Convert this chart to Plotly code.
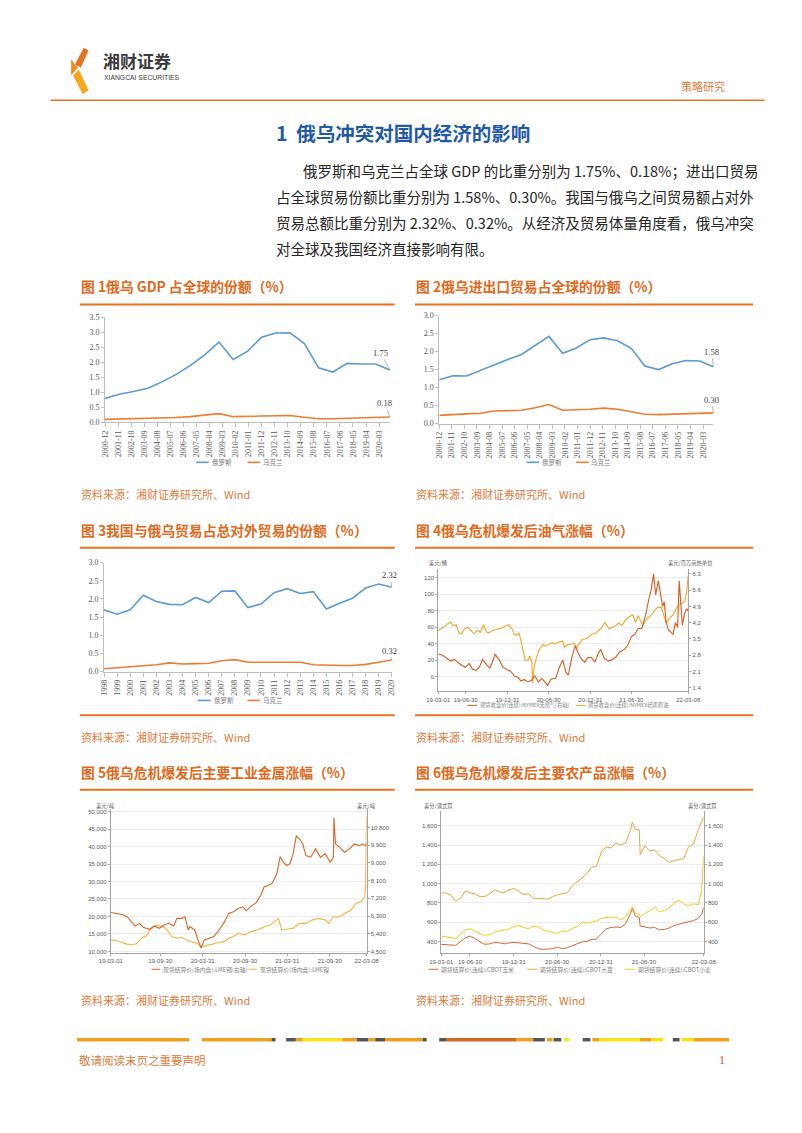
import plotly.graph_objects as go

W, H = 802, 1133
CJK = "Noto Sans CJK SC"
SERIF = "Liberation Serif"
SANS = "Liberation Sans"
LINE_OR = "#E8731E"
TITLE_OR = "#E2691A"
SRC_OR = "#E07B3C"
BLUE = "#5B9BD5"
XL_OR = "#ED7D31"
TXT = "#595959"

# ---------------- data ----------------
GDP_DATES = ["2000-12-01", "2001-12-01", "2002-12-01", "2003-12-01", "2004-12-01", "2005-12-01",
             "2006-12-01", "2007-12-01", "2008-12-01", "2009-12-01", "2010-12-01", "2011-12-01",
             "2012-12-01", "2013-12-01", "2014-12-01", "2015-12-01", "2016-12-01", "2017-12-01",
             "2018-12-01", "2019-12-01", "2020-12-01"]
MONTH_TICKS = ["2000-12", "2001-11", "2002-10", "2003-09", "2004-08", "2005-07", "2006-06", "2007-05",
               "2008-04", "2009-03", "2010-02", "2011-01", "2011-12", "2012-11", "2013-10", "2014-09",
               "2015-08", "2016-07", "2017-06", "2018-05", "2019-04", "2020-03"]
GDP_RU = [0.80, 0.94, 1.03, 1.14, 1.35, 1.60, 1.90, 2.25, 2.68, 2.10, 2.37, 2.84, 2.98, 2.99, 2.63,
          1.82, 1.68, 1.97, 1.95, 1.95, 1.75]
GDP_UA = [0.10, 0.11, 0.12, 0.13, 0.14, 0.16, 0.19, 0.23, 0.29, 0.19, 0.19, 0.21, 0.22, 0.23, 0.17,
          0.12, 0.12, 0.13, 0.15, 0.17, 0.18]
TRADE_RU = [1.22, 1.33, 1.32, 1.48, 1.62, 1.78, 1.92, 2.17, 2.42, 1.95, 2.10, 2.33, 2.38, 2.30, 2.09,
            1.60, 1.50, 1.66, 1.75, 1.74, 1.58]
TRADE_UA = [0.23, 0.26, 0.27, 0.29, 0.35, 0.36, 0.37, 0.44, 0.53, 0.37, 0.38, 0.40, 0.43, 0.40, 0.33,
            0.26, 0.25, 0.26, 0.28, 0.30, 0.30]
CN_YEARS = list(range(1998, 2021))
CN_RU = [1.70, 1.58, 1.70, 2.10, 1.93, 1.85, 1.84, 2.04, 1.90, 2.21, 2.22, 1.76, 1.86, 2.17, 2.28,
         2.15, 2.20, 1.72, 1.88, 2.02, 2.30, 2.41, 2.32]
CN_UA = [0.08, 0.11, 0.12, 0.16, 0.19, 0.24, 0.21, 0.22, 0.23, 0.30, 0.33, 0.26, 0.26, 0.28, 0.26,
         0.26, 0.19, 0.17, 0.17, 0.17, 0.20, 0.26, 0.32]

# chart 4: NYMEX crude (left) and natural gas (right)
CL_DATES = ["2019-03-01", "2019-03-15", "2019-03-29", "2019-04-10", "2019-04-23", "2019-05-06", "2019-05-20",
            "2019-05-31", "2019-06-12", "2019-06-24", "2019-07-10", "2019-07-22", "2019-08-07", "2019-08-19",
            "2019-09-03", "2019-09-16", "2019-09-30", "2019-10-10", "2019-10-25", "2019-11-08", "2019-11-22",
            "2019-12-06", "2019-12-20", "2020-01-07", "2020-01-20", "2020-01-31", "2020-02-10", "2020-02-20",
            "2020-02-28", "2020-03-09", "2020-03-18", "2020-03-31", "2020-04-08", "2020-04-17", "2020-04-20",
            "2020-04-27", "2020-05-08", "2020-05-20", "2020-06-05", "2020-06-15", "2020-06-30", "2020-07-15",
            "2020-07-31", "2020-08-14", "2020-08-31", "2020-09-08", "2020-09-21", "2020-10-05", "2020-10-20",
            "2020-10-30", "2020-11-13", "2020-11-25", "2020-12-10", "2020-12-24", "2021-01-08", "2021-01-22",
            "2021-02-05", "2021-02-19", "2021-03-05", "2021-03-23", "2021-04-07", "2021-04-22", "2021-05-05",
            "2021-05-19", "2021-06-02", "2021-06-16", "2021-07-06", "2021-07-19", "2021-07-30", "2021-08-11",
            "2021-08-20", "2021-09-03", "2021-09-17", "2021-10-01", "2021-10-15", "2021-10-26", "2021-11-09",
            "2021-11-26", "2021-12-01", "2021-12-15", "2021-12-31", "2022-01-13", "2022-01-26", "2022-02-09",
            "2022-02-22", "2022-03-01", "2022-03-04", "2022-03-08"]
CL_VALS = [56, 58, 61, 64, 66, 62, 63, 53, 52, 58, 60, 56, 52, 56, 54, 63, 54, 53, 56, 57, 58, 59, 61,
           63, 58, 51, 50, 53, 45, 31, 20, 20, 25, 18, -8, 12, 24, 33, 39, 37, 39, 41, 40, 42, 43, 36, 39,
           39, 41, 36, 40, 45, 46, 48,
           52, 52, 56, 59, 66, 58, 60, 62, 65, 62, 68, 72, 75, 66, 74, 68, 62, 69, 72, 76, 82, 84, 84, 68,
           65, 71, 75, 82, 87, 89, 92, 103, 116, 123]
NG_DATES = ["2019-03-01", "2019-03-20", "2019-04-10", "2019-04-25", "2019-05-10", "2019-05-30", "2019-06-15",
            "2019-06-30", "2019-07-15", "2019-07-30", "2019-08-15", "2019-08-30", "2019-09-12", "2019-09-30",
            "2019-10-15", "2019-10-31", "2019-11-06", "2019-11-25", "2019-12-10", "2019-12-31", "2020-01-15",
            "2020-01-31", "2020-02-15", "2020-02-28", "2020-03-15", "2020-03-31", "2020-04-15", "2020-04-30",
            "2020-05-15", "2020-05-31", "2020-06-15", "2020-06-26", "2020-07-10", "2020-07-31", "2020-08-15",
            "2020-08-31", "2020-09-15", "2020-09-25", "2020-10-10", "2020-10-25", "2020-11-05", "2020-11-20",
            "2020-12-05", "2020-12-20", "2021-01-05", "2021-01-20", "2021-02-05", "2021-02-15", "2021-03-01",
            "2021-03-20", "2021-04-05", "2021-04-25", "2021-05-10", "2021-05-31", "2021-06-15", "2021-06-30",
            "2021-07-15", "2021-07-30", "2021-08-15", "2021-08-31", "2021-09-15", "2021-09-25", "2021-10-06",
            "2021-10-15", "2021-10-27", "2021-11-05", "2021-11-15", "2021-11-22", "2021-12-01", "2021-12-10",
            "2021-12-20", "2021-12-31", "2022-01-10", "2022-01-20", "2022-01-27", "2022-02-03", "2022-02-10",
            "2022-02-20", "2022-03-01", "2022-03-08"]
NG_VALS = [2.85, 2.80, 2.65, 2.55, 2.62, 2.45, 2.35, 2.28, 2.45, 2.20, 2.15, 2.30, 2.62, 2.40, 2.25, 2.65,
           2.85, 2.60, 2.30, 2.18, 2.10, 1.90, 1.85, 1.70, 1.75, 1.65, 1.72, 1.92, 1.65, 1.80, 1.65, 1.50,
           1.78, 1.80, 2.25, 2.60, 2.05, 1.95, 2.70, 3.20, 2.95, 2.65, 2.50, 2.70, 2.70, 2.50, 2.90, 3.05,
           2.70, 2.55, 2.60, 2.75, 2.95, 3.05, 3.25, 3.60, 3.70, 3.95, 3.95, 4.50, 5.20, 5.60, 6.30, 5.40,
           6.00, 5.50, 4.90, 5.10, 4.20, 3.90, 3.80, 3.70, 4.20, 4.00, 6.00, 5.00, 4.10, 4.60, 4.80, 4.70]
DAY_TICKS_A = ["2019-03-01", "2019-06-30", "2019-12-31", "2020-06-30", "2020-12-31", "2021-06-30", "2022-03-08"]
DAY_TICKS_B = ["2019-03-01", "2019-09-30", "2020-03-31", "2020-09-30", "2021-03-31", "2021-09-30", "2022-03-08"]

# chart 5: LME copper (right) and nickel (left)
CU_DATES = ["2019-03-01", "2019-03-22", "2019-04-19", "2019-05-10", "2019-05-30", "2019-06-13", "2019-07-04",
            "2019-07-18", "2019-08-15", "2019-09-05", "2019-09-26", "2019-10-16", "2019-11-06", "2019-11-27",
            "2019-12-11", "2020-01-01", "2020-01-15", "2020-01-29", "2020-02-05", "2020-02-26", "2020-03-11",
            "2020-03-24", "2020-04-07", "2020-04-28", "2020-05-19", "2020-06-09", "2020-06-30", "2020-07-21",
            "2020-08-11", "2020-08-31", "2020-09-21", "2020-10-05", "2020-10-26", "2020-11-16", "2020-12-07",
            "2020-12-21", "2021-01-10", "2021-01-24", "2021-02-14", "2021-02-28", "2021-03-14", "2021-03-28",
            "2021-04-11", "2021-04-25", "2021-05-09", "2021-05-23", "2021-06-06", "2021-06-19", "2021-07-10",
            "2021-07-31", "2021-08-21", "2021-09-11", "2021-10-02", "2021-10-16", "2021-10-18", "2021-10-25",
            "2021-11-12", "2021-12-03", "2021-12-24", "2022-01-14", "2022-02-04", "2022-02-18", "2022-03-04",
            "2022-03-08"]
CU_VALS = [6485, 6434, 6384, 6266, 6014, 5795, 5930, 5728, 5627, 5795, 5677, 5846, 5930, 5795, 6182, 6182,
           6250, 5593, 5761, 5593, 5089, 4668, 5089, 5173, 5257, 5593, 5930, 6434, 6518, 6687, 6771, 6569,
           6804, 6973, 7359, 7780, 7864, 7948, 8453, 9327, 9041, 8873, 8957, 9462, 10387, 10219, 9966, 9378,
           9294, 9714, 9294, 9462, 9041, 9294, 11312, 9966, 9798, 9546, 9714, 9966, 9882, 9966, 9882, 10000]
NI_DATES = ["2019-03-01", "2019-03-22", "2019-04-19", "2019-05-10", "2019-05-30", "2019-06-20", "2019-07-11",
            "2019-08-01", "2019-08-22", "2019-09-12", "2019-10-03", "2019-10-16", "2019-10-30", "2019-11-20",
            "2019-12-11", "2020-01-01", "2020-01-22", "2020-02-05", "2020-02-26", "2020-03-17", "2020-03-24",
            "2020-03-31", "2020-04-21", "2020-05-12", "2020-06-09", "2020-06-30", "2020-07-21", "2020-08-11",
            "2020-09-01", "2020-09-28", "2020-10-26", "2020-11-23", "2020-12-21", "2021-01-17", "2021-02-21",
            "2021-03-07", "2021-03-28", "2021-04-25", "2021-05-23", "2021-06-19", "2021-07-17", "2021-08-14",
            "2021-09-11", "2021-09-25", "2021-10-16", "2021-11-12", "2021-12-03", "2021-12-31", "2022-01-21",
            "2022-02-11", "2022-02-28", "2022-03-04", "2022-03-08"]
NI_VALS = [13310, 13120, 12553, 12100, 11900, 12175, 13782, 14500, 16500, 17565, 17200, 16903, 16146, 14255,
           13782, 14000, 13310, 12837, 12553, 11900, 11300, 11418, 11891, 12175, 12553, 12800, 13782, 14300,
           15201, 14728, 15674, 16146, 17092, 17565, 19456, 16146, 16336, 16619, 18038, 18038, 18983, 19456,
           18983, 18038, 19929, 19929, 20874, 21820, 23711, 24184, 25602, 30000, 48500]

# chart 6: CBOT corn, soybean, wheat
AG_DATES = ["2019-03-01", "2019-03-21", "2019-04-11", "2019-05-01", "2019-05-22", "2019-06-11", "2019-07-01",
            "2019-07-22", "2019-08-11", "2019-08-31", "2019-09-21", "2019-10-11", "2019-11-01", "2019-11-21",
            "2019-12-11", "2020-01-01", "2020-01-21", "2020-02-10", "2020-03-02", "2020-03-22", "2020-04-12",
            "2020-05-02", "2020-05-22", "2020-06-12", "2020-07-02", "2020-07-23", "2020-08-12", "2020-09-01",
            "2020-09-22", "2020-10-12", "2020-11-01", "2020-11-22", "2020-12-12", "2021-01-02", "2021-01-22",
            "2021-02-11", "2021-03-04", "2021-03-24", "2021-04-13", "2021-05-04", "2021-05-12", "2021-05-24",
            "2021-06-10", "2021-06-14", "2021-07-04", "2021-07-24", "2021-08-14", "2021-09-03", "2021-09-24",
            "2021-10-14", "2021-11-03", "2021-11-24", "2021-12-14", "2022-01-03", "2022-01-24", "2022-02-13",
            "2022-02-27", "2022-03-08"]
SOY_VALS = [903, 903, 880, 815, 850, 925, 905, 890, 865, 865, 895, 935, 915, 905, 935, 950, 920, 885, 895,
            850, 845, 845, 840, 865, 885, 895, 905, 975, 1020, 1060, 1100, 1170, 1180, 1330, 1380, 1370, 1420,
            1400, 1420, 1550, 1640, 1560, 1560, 1300, 1390, 1340, 1350, 1290, 1260, 1220, 1240, 1250, 1260,
            1380, 1410, 1560, 1650, 1690]
CORN_VALS = [370, 368, 362, 360, 400, 440, 455, 430, 395, 370, 375, 390, 385, 375, 385, 390, 385, 380, 375,
             350, 325, 318, 320, 325, 340, 325, 335, 355, 370, 395, 400, 420, 425, 480, 530, 545, 550, 545,
             580, 690, 740, 665, 650, 560, 550, 540, 545, 520, 525, 540, 565, 580, 590, 605, 615, 640, 680, 750]
WHEAT_VALS = [455, 450, 440, 430, 480, 520, 530, 500, 480, 465, 470, 495, 510, 520, 530, 555, 565, 550, 530,
              560, 550, 520, 510, 490, 485, 510, 500, 535, 555, 600, 590, 600, 610, 640, 650, 645, 655, 625,
              650, 730, 760, 690, 680, 660, 690, 720, 750, 710, 720, 750, 800, 830, 790, 770, 790, 780, 930, 1290]

# footer decorative bar segments (page decoration)
FOOTER = [(67, 183, "#F0A020"), (196, 268, "#F0A020"), (268, 272, "#555555"), (283, 293, "#555555"),
          (293, 300, "#F0A020"), (300, 341, "#F7E417"), (341, 356, "#F0A020"), (356, 368, "#555555"),
          (368, 375, "#F0A020"), (375, 385, "#555555"), (385, 424, "#F0A020"), (424, 428, "#555555"),
          (441, 448, "#555555"), (448, 521, "#D2691E"), (521, 538, "#F0A020"), (538, 550, "#555555"),
          (552, 558, "#F0A020"), (559, 567, "#555555"), (570, 575, "#F7E417"), (589, 597, "#555555"),
          (599, 606, "#F0A020"), (606, 648, "#F7E417"), (648, 660, "#F0A020"), (660, 672, "#F7E417"),
          (682, 689, "#555555"), (691, 704, "#F7E417"), (704, 740, "#F0A020")]

# ---------------- helpers ----------------
def X(p):
    return p / W


def Y(p):
    return 1 - p / H


annotations = []
shapes = []


def text(x, y, s, size, color, family=CJK, xanchor="left"):
    annotations.append(dict(x=X(x), y=Y(y), xref="paper", yref="paper", text=s, showarrow=False,
                            xanchor=xanchor, yanchor="middle", borderpad=0,
                            font=dict(size=size, color=color, family=family)))


def hline(x0, x1, y, color, width):
    shapes.append(dict(type="line", xref="paper", yref="paper", x0=X(x0), x1=X(x1), y0=Y(y), y1=Y(y),
                       line=dict(color=color, width=width)))


def poly(pts, color):
    path = "M " + " L ".join(f"{X(a):.5f},{Y(b):.5f}" for a, b in pts) + " Z"
    shapes.append(dict(type="path", xref="paper", yref="paper", path=path, fillcolor=color,
                       line=dict(width=0)))


def legend_item(x, y, color, label, size, lw, family=CJK, length=13):
    hline(x, x + length, y, color, lw)
    text(x + length + 2, y, label, size, "#7f7f7f", family)


fig = go.Figure()


def line(xs, ys, color, width, xa, ya):
    fig.add_trace(go.Scatter(x=xs, y=ys, mode="lines", line=dict(color=color, width=width),
                             xaxis=xa, yaxis=ya, showlegend=False, hoverinfo="skip"))


# ---------------- header ----------------
poly([(65, 61), (74, 44), (79, 47), (71, 64)], "#E8731E")
poly([(61, 56), (68, 64), (61, 72)], "#F08A24")
poly([(63, 72), (69, 66), (79, 87), (73, 91)], "#F6A81C")
text(93, 57, "<b>湘财证券</b>", 17, "#3b3b3b")
text(94, 74, "XIANGCAI SECURITIES", 6.8, "#3b3b3b", SANS)
text(713, 83, "策略研究", 11, "#E07B3C", CJK, "center")
hline(40, 777, 97, LINE_OR, 1.6)

text(271, 130, "<b>1  俄乌冲突对国内经济的影响</b>", 19.5, "#1F5AA6")
PARA = ["俄罗斯和乌克兰占全球 GDP 的比重分别为 1.75%、0.18%；进出口贸易",
        "占全球贸易份额比重分别为 1.58%、0.30%。我国与俄乌之间贸易额占对外",
        "贸易总额比重分别为 2.32%、0.32%。从经济及贸易体量角度看，俄乌冲突",
        "对全球及我国经济直接影响有限。"]
text(299, 168, PARA[0], 14.5, "#262626")
text(271, 194, PARA[1], 14.5, "#262626")
text(271, 220, PARA[2], 14.5, "#262626")
text(271, 246, PARA[3], 14.5, "#262626")

# ---------------- titles / rules / sources ----------------
TS = 13.8
text(70, 284, "<b>图 1俄乌 GDP 占全球的份额（%）</b>", TS, TITLE_OR)
text(416, 284, "<b>图 2俄乌进出口贸易占全球的份额（%）</b>", TS, TITLE_OR)
hline(70, 395, 303, LINE_OR, 2)
hline(416, 765, 303, LINE_OR, 2)
SS = 11
text(70, 494, "资料来源：湘财证券研究所、Wind", SS, SRC_OR)
text(416, 494, "资料来源：湘财证券研究所、Wind", SS, SRC_OR)

text(70, 530, "<b>图 3我国与俄乌贸易占总对外贸易的份额（%）</b>", TS, TITLE_OR)
text(416, 530, "<b>图 4俄乌危机爆发后油气涨幅（%）</b>", TS, TITLE_OR)
hline(70, 395, 548, LINE_OR, 2)
hline(416, 765, 548, LINE_OR, 2)
hline(70, 395, 717, LINE_OR, 2)
hline(416, 765, 717, LINE_OR, 2)
text(70, 739, "资料来源：湘财证券研究所、Wind", SS, SRC_OR)
text(416, 739, "资料来源：湘财证券研究所、Wind", SS, SRC_OR)

text(70, 774, "<b>图 5俄乌危机爆发后主要工业金属涨幅（%）</b>", TS, TITLE_OR)
text(416, 774, "<b>图 6俄乌危机爆发后主要农产品涨幅（%）</b>", TS, TITLE_OR)
hline(70, 395, 792, LINE_OR, 2)
hline(416, 765, 792, LINE_OR, 2)
text(70, 1004, "资料来源：湘财证券研究所、Wind", SS, SRC_OR)
text(416, 1004, "资料来源：湘财证券研究所、Wind", SS, SRC_OR)

# ---------------- footer ----------------
for a, b, c in FOOTER:
    hline(a, b, 1044, c, 3.5)
text(68, 1064, "敬请阅读末页之重要声明", 11.5, "#E07B3C")
text(733, 1064, "1", 12, "#D9531E", SERIF, "center")

# ---------------- traces ----------------
line(GDP_DATES, GDP_RU, BLUE, 1.6, "x", "y")
line(GDP_DATES, GDP_UA, XL_OR, 1.6, "x", "y")
line(GDP_DATES, TRADE_RU, BLUE, 1.6, "x2", "y2")
line(GDP_DATES, TRADE_UA, XL_OR, 1.6, "x2", "y2")
line(CN_YEARS, CN_RU, BLUE, 1.6, "x3", "y3")
line(CN_YEARS, CN_UA, XL_OR, 1.6, "x3", "y3")
line(CL_DATES, CL_VALS, "#F2A62A", 1.1, "x4", "y4")
line(NG_DATES, NG_VALS, "#DA5A1F", 1.1, "x4", "y5")
line(NI_DATES, NI_VALS, "#F4B23E", 1.1, "x5", "y6")
line(CU_DATES, CU_VALS, "#DC6425", 1.1, "x5", "y7")
line(AG_DATES, CORN_VALS, "#D9653A", 1.0, "x6", "y8")
line(AG_DATES, SOY_VALS, "#F0A33C", 1.0, "x6", "y8")
line(AG_DATES, WHEAT_VALS, "#F0CC22", 1.0, "x6", "y9")

# data labels with leader lines
def dlabel(xv, yv, s, ax, ay, xa, ya):
    annotations.append(dict(x=xv, y=yv, xref=xa, yref=ya, text=s, showarrow=True, arrowhead=0,
                            arrowwidth=0.8, arrowcolor="#a6a6a6", ax=ax, ay=ay, standoff=0,
                            font=dict(size=8.5, color="#404040", family=SERIF)))


dlabel(GDP_DATES[-1], GDP_RU[-1], "1.75", -9, -17, "x", "y")
dlabel(GDP_DATES[-1], GDP_UA[-1], "0.18", -5, -14, "x", "y")
dlabel(GDP_DATES[-1], TRADE_RU[-1], "1.58", -2, -15, "x2", "y2")
dlabel(GDP_DATES[-1], TRADE_UA[-1], "0.30", -2, -13, "x2", "y2")
dlabel(CN_YEARS[-1], CN_RU[-1], "2.32", -2, -12, "x3", "y3")
dlabel(CN_YEARS[-1], CN_UA[-1], "0.32", -2, -9, "x3", "y3")

# legends (manual)
legend_item(190, 462, BLUE, "俄罗斯", 6.5, 1.6)
legend_item(243, 462, XL_OR, "乌克兰", 6.5, 1.6)
legend_item(531, 462, BLUE, "俄罗斯", 6.5, 1.6)
legend_item(582, 462, XL_OR, "乌克兰", 6.5, 1.6)
legend_item(192, 702, BLUE, "俄罗斯", 6.5, 1.6)
legend_item(243, 702, XL_OR, "乌克兰", 6.5, 1.6)
legend_item(470, 707, "#DA5A1F", "期货收盘价(连续):NYMEX天然气(右轴)", 5.3, 1.0, CJK, 10)
legend_item(582, 707, "#F2A62A", "期货收盘价(连续):NYMEX轻质原油", 5.3, 1.0, CJK, 10)
legend_item(144, 973, "#DC6425", "现货结算价(场内盘):LME铜(右轴)", 5.8, 1.0, CJK, 9)
legend_item(244, 973, "#F4B23E", "现货结算价(场内盘):LME镍", 5.8, 1.0, CJK, 9)
legend_item(430, 973, "#D9653A", "期货结算价(连续):CBOT玉米", 5.8, 1.0, CJK, 10)
legend_item(532, 973, "#F0A33C", "期货结算价(连续):CBOT大豆", 5.8, 1.0, CJK, 10)
legend_item(633, 973, "#F0CC22", "期货结算价(连续):CBOT小麦", 5.8, 1.0, CJK, 10)

# unit labels
text(440, 563, "美元/桶", 5.3, TXT, CJK, "center")
text(700, 563, "美元/百万英热单位", 5.3, TXT, CJK, "center")
text(97, 808, "美元/吨", 5.3, TXT, CJK, "center")
text(366, 808, "美元/吨", 5.3, TXT, CJK, "center")
text(440, 808, "美分/蒲式耳", 5.3, TXT, CJK, "center")
text(713, 808, "美分/蒲式耳", 5.3, TXT, CJK, "center")

# ---------------- axes ----------------
ex_font = dict(size=8, color=TXT, family=SERIF)
wind_font = dict(size=6, color=TXT, family=SANS)


def excel_x(dom, ya, **kw):
    d = dict(domain=[X(dom[0]), X(dom[1])], anchor=ya, showline=True, linecolor="#bfbfbf", linewidth=1,
             ticks="outside", ticklen=4, tickcolor="#bfbfbf", tickangle=-90, showgrid=False, zeroline=False,
             tickfont=ex_font, fixedrange=True)
    d.update(kw)
    return d


def excel_y(dom, xa, rng, dt):
    return dict(domain=[Y(dom[1]), Y(dom[0])], anchor=xa, range=rng, dtick=dt, tick0=0, tickformat=".1f",
                showline=True, linecolor="#bfbfbf", linewidth=1, ticks="outside", ticklen=3,
                tickcolor="#bfbfbf", showgrid=False, zeroline=False, tickfont=ex_font, fixedrange=True)


def wind_x(dom, ya, rng, tv):
    return dict(domain=[X(dom[0]), X(dom[1])], anchor=ya, type="date", range=rng, tickvals=tv,
                ticktext=[t[2:] for t in tv], showline=True, linecolor="#a6a6a6", linewidth=1,
                ticks="outside", ticklen=2, tickcolor="#a6a6a6", showgrid=False, zeroline=False,
                tickfont=wind_font, tickangle=0, fixedrange=True)


def wind_y(dom, xa, rng, tv, fmt, side="left", overlay=None, grid=True):
    d = dict(domain=[Y(dom[1]), Y(dom[0])], anchor=xa, range=rng, tickvals=tv, tickformat=fmt, side=side,
             showline=True, linecolor="#a6a6a6", linewidth=1, ticks="outside", ticklen=2,
             tickcolor="#a6a6a6", showgrid=grid, gridcolor="#eeeeee", gridwidth=0.6, zeroline=False,
             tickfont=wind_font, fixedrange=True)
    if overlay:
        d["overlaying"] = overlay
    return d


mticks = [m + "-01" for m in MONTH_TICKS]
layout_axes = dict(
    xaxis=excel_x((96, 390), "y", type="date", range=[GDP_DATES[0], GDP_DATES[-1]], tickvals=mticks,
                  ticktext=MONTH_TICKS),
    yaxis=excel_y((316, 421.7), "x", [0, 3.5], 0.5),
    xaxis2=excel_x((441, 724), "y2", type="date", range=[GDP_DATES[0], GDP_DATES[-1]], tickvals=mticks,
                   ticktext=MONTH_TICKS),
    yaxis2=excel_y((314, 423), "x2", [0, 3.0], 0.5),
    xaxis3=excel_x((95, 392), "y3", range=[CN_YEARS[0], CN_YEARS[-1]], tickvals=CN_YEARS,
                   ticktext=[str(v) for v in CN_YEARS]),
    yaxis3=excel_y((563, 673), "x3", [0, 3.0], 0.5),
    xaxis4=wind_x((440, 698), "y4", ["2019-03-01", "2022-03-08"], DAY_TICKS_A),
    yaxis4=wind_y((570, 693), "x4", [-18, 130], [0, 20, 40, 60, 80, 100, 120], "d"),
    yaxis5=wind_y((570, 693), "x4", [1.24, 6.49], [1.4, 2.1, 2.8, 3.5, 4.2, 4.9, 5.6, 6.3], ".1f",
                  "right", "y4", False),
    xaxis5=wind_x((102, 366), "y6", ["2019-03-01", "2022-03-08"], DAY_TICKS_B),
    yaxis6=wind_y((811.7, 956.7), "x5", [9527, 50662], [10000, 15000, 20000, 25000, 30000, 35000, 40000,
                                                          45000, 50000], ",d"),
    yaxis7=wind_y((811.7, 956.7), "x5", [4416, 11733], [4500, 5400, 6300, 7200, 8100, 9000, 9900, 10800],
                  ",d", "right", "y6", False),
    xaxis6=wind_x((443, 714), "y8", ["2019-03-01", "2022-03-08"], DAY_TICKS_A),
    yaxis8=wind_y((813, 957), "x6", [276, 1758], [400, 600, 800, 1000, 1200, 1400, 1600], ",d"),
    yaxis9=wind_y((813, 957), "x6", [276, 1758], [400, 600, 800, 1000, 1200, 1400, 1600], ",d",
                  "right", "y8", False),
)

fig.update_layout(width=W, height=H, margin=dict(l=0, r=0, t=0, b=0), paper_bgcolor="white",
                  plot_bgcolor="white", showlegend=False, annotations=annotations, shapes=shapes,
                  **layout_axes)

fig.write_html("out.html", config={"displayModeBar": False},
               post_script="document.body.style.margin='0px';document.body.style.overflow='hidden';")
